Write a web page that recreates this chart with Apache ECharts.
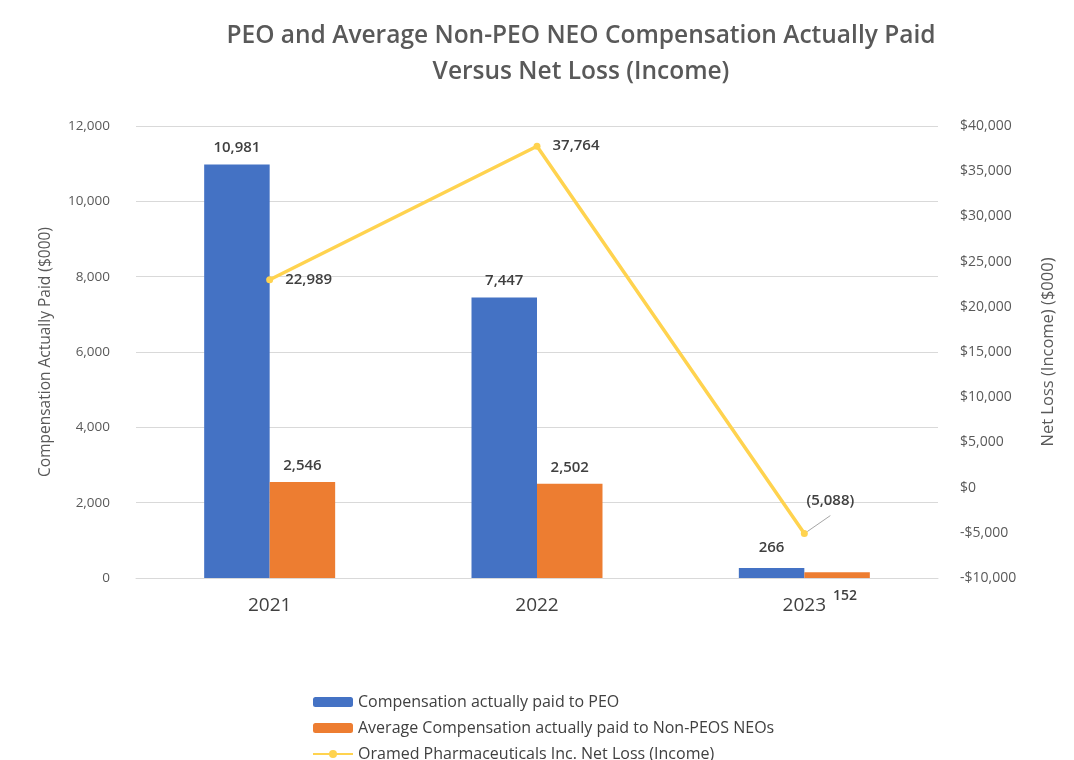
<!DOCTYPE html>
<html><head><meta charset="utf-8">
<script src="https://cdn.jsdelivr.net/npm/echarts@6/dist/echarts.min.js"></script>
<style>html,body{margin:0;padding:0;background:#fff}#c{width:1074px;height:760px}</style>
</head><body><div id="c"></div>
<script>
const years = ['2021','2022','2023'];
const peoPaid = [10981, 7447, 266];
const neoPaid = [2546, 2502, 152];
const netLoss = [22989, 37764, -5088];
const leftTicks = [0, 2000, 4000, 6000, 8000, 10000, 12000];
const rightTicks = [-10000, -5000, 0, 5000, 10000, 15000, 20000, 25000, 30000, 35000, 40000];

const FONT = 'Open Sans';
const fmt = v => v.toLocaleString('en-US');
const fmtLoss = v => v < 0 ? '(' + fmt(-v) + ')' : fmt(v);
const fmtDollar = v => (v < 0 ? '-$' : '$') + fmt(Math.abs(v));

const chart = echarts.init(document.getElementById('c'));
chart.setOption({
  backgroundColor: '#fff',
  textStyle: { fontFamily: FONT },
  title: {
    text: 'PEO and Average Non-PEO NEO Compensation Actually Paid\nVersus Net Loss (Income)',
    left: 576, top: 13, textAlign: 'center',
    textStyle: { fontFamily: FONT, fontSize: 24.5, fontWeight: 600, color: '#595959', lineHeight: 36 }
  },
  legend: {
    orient: 'vertical', left: 307, top: 689, height: 90, itemWidth: 40, itemHeight: 10, itemGap: 10,
    textStyle: { fontFamily: FONT, fontSize: 16, color: '#404040' },
    data: ['Compensation actually paid to PEO', 'Average Compensation actually paid to Non-PEOS NEOs', 'Oramed Pharmaceuticals Inc. Net Loss (Income)']
  },
  grid: { left: 136, right: 136, top: 126, bottom: 182 },
  xAxis: {
    type: 'category', data: years,
    axisLine: { show: true, lineStyle: { color: '#d9d9d9' } },
    axisTick: { show: false },
    axisLabel: { fontFamily: FONT, fontSize: 19, color: '#404040', margin: 18 }
  },
  yAxis: [{
    type: 'value', min: leftTicks[0], max: leftTicks[leftTicks.length - 1], interval: 2000,
    name: 'Compensation Actually Paid ($000)', nameLocation: 'middle', nameGap: 82, nameRotate: 90,
    nameTextStyle: { fontFamily: FONT, fontSize: 15.5, color: '#595959' },
    axisLine: { show: false }, axisTick: { show: false },
    axisLabel: { fontFamily: FONT, fontSize: 13.5, color: '#595959', margin: 26, formatter: v => fmt(v) },
    splitLine: { lineStyle: { color: '#d9d9d9' } }
  }, {
    type: 'value', min: rightTicks[0], max: rightTicks[rightTicks.length - 1], interval: 5000,
    name: 'Net Loss (Income) ($000)', nameLocation: 'middle', nameGap: 102, nameRotate: 90,
    nameTextStyle: { fontFamily: FONT, fontSize: 16.5, color: '#595959' },
    axisLine: { show: false }, axisTick: { show: false },
    axisLabel: { fontFamily: FONT, fontSize: 14, color: '#595959', margin: 22, formatter: v => fmtDollar(v) },
    splitLine: { show: false }
  }],
  series: [{
    name: 'Compensation actually paid to PEO', type: 'bar', yAxisIndex: 0,
    barGap: '0%', barCategoryGap: '51%',
    itemStyle: { color: '#4472C4' },
    label: { show: true, position: 'top', distance: 9, fontFamily: FONT, fontSize: 15, fontWeight: 600, color: '#404040', formatter: p => fmt(p.value) },
    data: peoPaid.map((v, i) => i === 2 ? { value: v, label: { offset: [0, -4] } } : v)
  }, {
    name: 'Average Compensation actually paid to Non-PEOS NEOs', type: 'bar', yAxisIndex: 0,
    itemStyle: { color: '#ED7D31' },
    label: { show: true, position: 'top', distance: 9, fontFamily: FONT, fontSize: 15, fontWeight: 600, color: '#404040', formatter: p => fmt(p.value) },
    data: neoPaid.map((v, i) => i === 2 ? { value: v, label: { offset: [8, 40], fontSize: 14 } } : v)
  }, {
    name: 'Oramed Pharmaceuticals Inc. Net Loss (Income)', type: 'line', yAxisIndex: 1,
    symbol: 'circle', symbolSize: 7,
    lineStyle: { color: '#FFD34F', width: 3.5 },
    itemStyle: { color: '#FFD34F' },
    label: { show: true, position: 'right', distance: 12, fontFamily: FONT, fontSize: 15, fontWeight: 600, color: '#404040', formatter: p => fmtLoss(p.value) },
    data: netLoss.map((v, i) => i === 2 ? {
      value: v,
      label: { position: 'top', offset: [26, -10] },
      labelLine: { show: true, lineStyle: { color: '#a6a6a6', width: 1 } }
    } : v)
  }]
});
</script>
</body></html>
